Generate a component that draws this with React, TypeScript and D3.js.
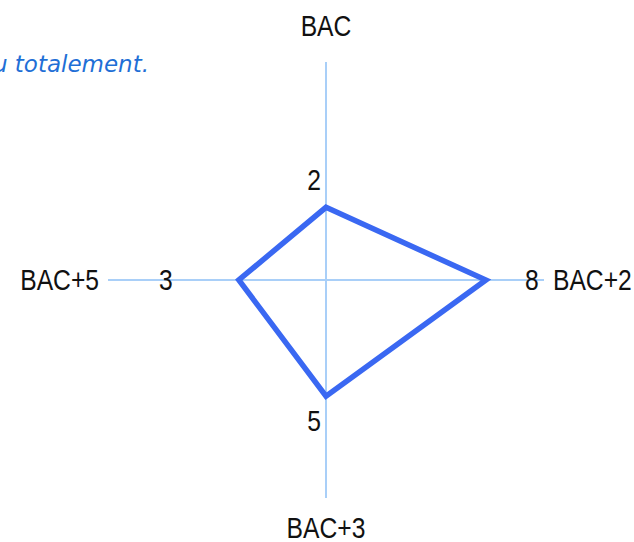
import React from 'react';
import * as d3 from 'd3';

const categories = ['BAC', 'BAC+2', 'BAC+3', 'BAC+5'];
const values = [2, 8, 5, 3];
const scaleDomain = [-3, 12];
const noteText = 'u totalement.';

const W = 634;
const H = 542;
const cx = 326;
const cy = 280;
const R = 218;

// nudges for the value labels, in the same order as categories
const valueLabelOffset = [
  [-12, -27],
  [46, 0],
  [-12, 25],
  [-73, 0],
];

// narrow look: Liberation Sans squeezed horizontally
const font = '"Liberation Sans", Arial, sans-serif';
const squeeze = 0.85;
const fs = 29;

export default function App() {
  const r = d3.scaleLinear().domain(scaleDomain).range([0, R]);
  const angle = d3
    .scalePoint<string>()
    .domain(categories)
    .range([0, 2 * Math.PI * (1 - 1 / categories.length)]);

  const line = d3
    .lineRadial<number>()
    .angle((d, i) => angle(categories[i]) as number)
    .radius((d) => r(d))
    .curve(d3.curveLinearClosed);

  const pt = (a: number, rad: number) => [Math.sin(a) * rad, -Math.cos(a) * rad];

  return (
    <svg width={W} height={H} style={{ position: 'absolute', left: 0, top: 0, background: '#fff' }}>
      <text x={149} y={72} textAnchor="end" fill="#1f6fd6" fontSize={23} fontStyle="italic"
        fontFamily='"DejaVu Sans", sans-serif'>
        {noteText}
      </text>
      <g transform={`translate(${cx},${cy})`}>
        {categories.map((c) => {
          const a = angle(c) as number;
          const [x, y] = pt(a, R);
          return <line key={c} x1={0} y1={0} x2={x} y2={y} stroke="#a9cff8" strokeWidth={2} />;
        })}
        <path d={line(values) || ''} fill="none" stroke="#3a68f2" strokeWidth={5.5} strokeLinejoin="miter" />
        {values.map((v, i) => {
          const a = angle(categories[i]) as number;
          const [x, y] = pt(a, r(v));
          const [dx, dy] = valueLabelOffset[i];
          return (
            <text key={i} transform={`translate(${x + dx},${y + dy}) scale(${squeeze},1)`}
              textAnchor="middle" dominantBaseline="central"
              fontSize={fs} fontFamily={font} fill="#111">
              {v}
            </text>
          );
        })}
        {categories.map((c) => {
          const a = angle(c) as number;
          const s = Math.sin(a);
          const horiz = Math.abs(s) > 0.5;
          const gap = horiz ? 9 : Math.cos(a) > 0 ? 36 : 30;
          const [x, y] = pt(a, R + gap);
          return (
            <text key={c} transform={`translate(${x},${y}) scale(${squeeze},1)`}
              fontSize={fs} fontFamily={font} fill="#111"
              textAnchor={horiz ? (s > 0 ? 'start' : 'end') : 'middle'}
              dominantBaseline="central">
              {c}
            </text>
          );
        })}
      </g>
    </svg>
  );
}
